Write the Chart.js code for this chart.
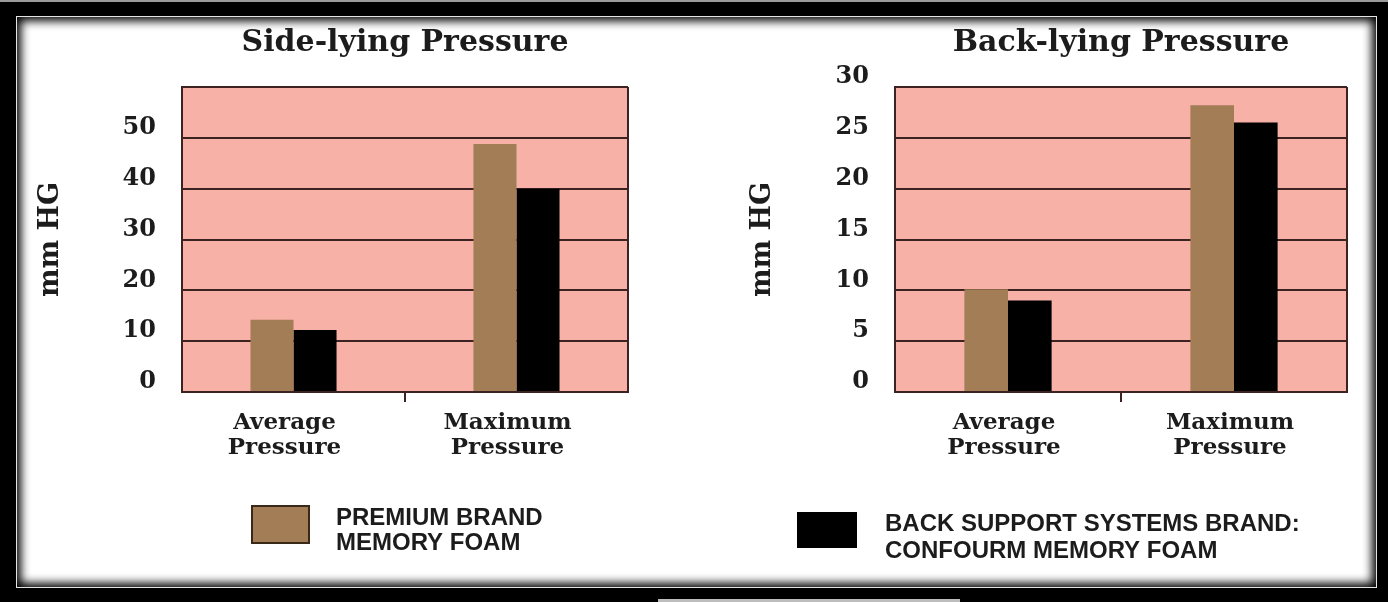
<!DOCTYPE html>
<html lang="en">
<head>
<meta charset="UTF-8">
<title>Side-lying and Back-lying Pressure</title>
<script src="https://cdn.jsdelivr.net/npm/chart.js"></script>
<style>
  html, body { margin: 0; padding: 0; }
  body { width: 1388px; height: 602px; background: #000; position: relative; overflow: hidden; }
  /* frame around the picture */
  #topLine { position: absolute; left: 0; top: 0; width: 1388px; height: 2px; background: #9a9a9a; }
  #panel { position: absolute; left: 16px; top: 16px; width: 1359px; height: 570px; background: #fff;
           border: 1px solid #e4e4e4; box-shadow: inset 0 0 10px 4px #000; }
  #bottomBar { position: absolute; left: 658px; top: 599px; width: 302px; height: 3px; background: #bdbdbd; }
  canvas { position: absolute; top: 0; }
  #leftChart { left: 0; }
  #rightChart { left: 700px; }
</style>
</head>
<body>
<div id="topLine"></div>
<div id="panel"></div>
<div id="bottomBar"></div>
<canvas id="leftChart" width="690" height="602"></canvas>
<canvas id="rightChart" width="688" height="602"></canvas>
<script>
// data
const categories = [["Average", "Pressure"], ["Maximum", "Pressure"]];
const seriesNames = [["PREMIUM BRAND", "MEMORY FOAM"], ["BACK SUPPORT SYSTEMS BRAND:", "CONFOURM MEMORY FOAM"]];
const sidePremium = [14.2, 48.8];
const sideConfourm = [12.2, 40.0];
const backPremium = [10.1, 28.2];
const backConfourm = [9.0, 26.5];
const sideTicks = [0, 10, 20, 30, 40, 50];      // 60 is the top of the frame, no label
const backTicks = [0, 5, 10, 15, 20, 25, 30];

const SERIF = "'DejaVu Serif', serif";
const SANS = "'Liberation Sans', Arial, sans-serif";
const BROWN = '#a27d56';
const PINK = '#f8b1a6';
const LINE = '#3d2222';
const TEXT = '#1c1c1c';

// pink fill behind the plot
const plotBackground = {
  id: 'plotBackground',
  beforeDraw(chart) {
    const { ctx, chartArea: a } = chart;
    ctx.save();
    ctx.fillStyle = PINK;
    ctx.fillRect(a.left, a.top, a.right - a.left, a.bottom - a.top);
    ctx.restore();
  }
};

// one legend entry under each chart, placed from the plot corner
const bottomKey = {
  id: 'bottomKey',
  afterDraw(chart, args, opts) {
    const { ctx, chartArea: a } = chart;
    const ds = chart.data.datasets[opts.index];
    const x = a.left + opts.dx;
    const y = a.bottom + opts.dy;
    ctx.save();
    ctx.fillStyle = ds.backgroundColor;
    ctx.fillRect(x, y, opts.boxWidth, opts.boxHeight);
    if (opts.borderWidth) {
      ctx.lineWidth = opts.borderWidth;
      ctx.strokeStyle = opts.borderColor;
      ctx.strokeRect(x, y, opts.boxWidth, opts.boxHeight);
    }
    ctx.fillStyle = TEXT;
    ctx.font = "bold 24px " + SANS;
    ctx.textBaseline = 'middle';
    ds.label.forEach((line, i) => {
      ctx.fillText(line, x + opts.boxWidth + opts.gap, y + opts.textTop + i * opts.lineHeight);
    });
    ctx.restore();
  }
};

function makeChart(id, cfg) {
  return new Chart(document.getElementById(id), {
    type: 'bar',
    data: {
      labels: categories,
      datasets: [
        { label: seriesNames[0], data: cfg.premium, backgroundColor: BROWN },
        { label: seriesNames[1], data: cfg.confourm, backgroundColor: '#000' }
      ]
    },
    options: {
      responsive: false,
      animation: false,
      layout: { padding: cfg.padding },
      datasets: { bar: { categoryPercentage: 0.386, barPercentage: 1 } },
      scales: {
        x: {
          grid: {
            offset: true,
            lineWidth: 2,
            tickLength: 10,
            color: c => c.index === 1 ? 'transparent' : LINE,
            tickColor: c => c.index === 1 ? LINE : 'transparent'
          },
          border: { display: true, color: LINE, width: 2 },
          ticks: {
            color: TEXT,
            font: { family: SERIF, size: 23, weight: 'bold', lineHeight: 1.09 },
            padding: 8,
            labelOffset: cfg.xLabelOffset,
            maxRotation: 0,
            autoSkip: false
          },
          afterFit: s => { s.height = 84; }
        },
        y: {
          min: 0,
          max: cfg.max,
          grid: { drawTicks: false, color: LINE, lineWidth: 2 },
          border: { display: true, color: LINE, width: 2 },
          ticks: {
            stepSize: cfg.step,
            padding: 26,
            labelOffset: -10,
            color: TEXT,
            font: { family: SERIF, size: 24, weight: 'bold' },
            callback: v => cfg.ticks.includes(v) ? v : ''
          },
          title: {
            display: true,
            text: 'mm HG',
            color: TEXT,
            padding: 0,
            font: { family: SERIF, size: 27, weight: 'bold', lineHeight: 1 }
          },
          afterFit: s => { s.width = cfg.yAxisWidth; }
        }
      },
      plugins: {
        title: {
          display: true,
          fullSize: false,
          text: cfg.title,
          color: TEXT,
          font: { family: SERIF, size: 30, weight: 'bold', lineHeight: 1 },
          padding: { top: 28, bottom: 29 }
        },
        legend: { display: false },
        tooltip: { enabled: false },
        bottomKey: cfg.key
      }
    },
    plugins: [plotBackground, bottomKey]
  });
}

makeChart('leftChart', {
  title: 'Side-lying Pressure',
  premium: sidePremium,
  confourm: sideConfourm,
  max: 60, step: 10, ticks: sideTicks,
  padding: { left: 37, right: 62, top: 0, bottom: 126 },
  yAxisWidth: 145,
  xLabelOffset: -9,
  key: { index: 0, dx: 70, dy: 114, boxWidth: 57, boxHeight: 37, borderWidth: 2, borderColor: '#3a2818',
         gap: 27, textTop: 12, lineHeight: 25 }
});

makeChart('rightChart', {
  title: 'Back-lying Pressure',
  premium: backPremium,
  confourm: backConfourm,
  max: 30, step: 5, ticks: backTicks,
  padding: { left: 49, right: 41, top: 0, bottom: 126 },
  yAxisWidth: 146,
  xLabelOffset: -4,
  key: { index: 1, dx: -98, dy: 120, boxWidth: 60, boxHeight: 36, borderWidth: 0,
         gap: 28, textTop: 12, lineHeight: 27 }
});
</script>
</body>
</html>
